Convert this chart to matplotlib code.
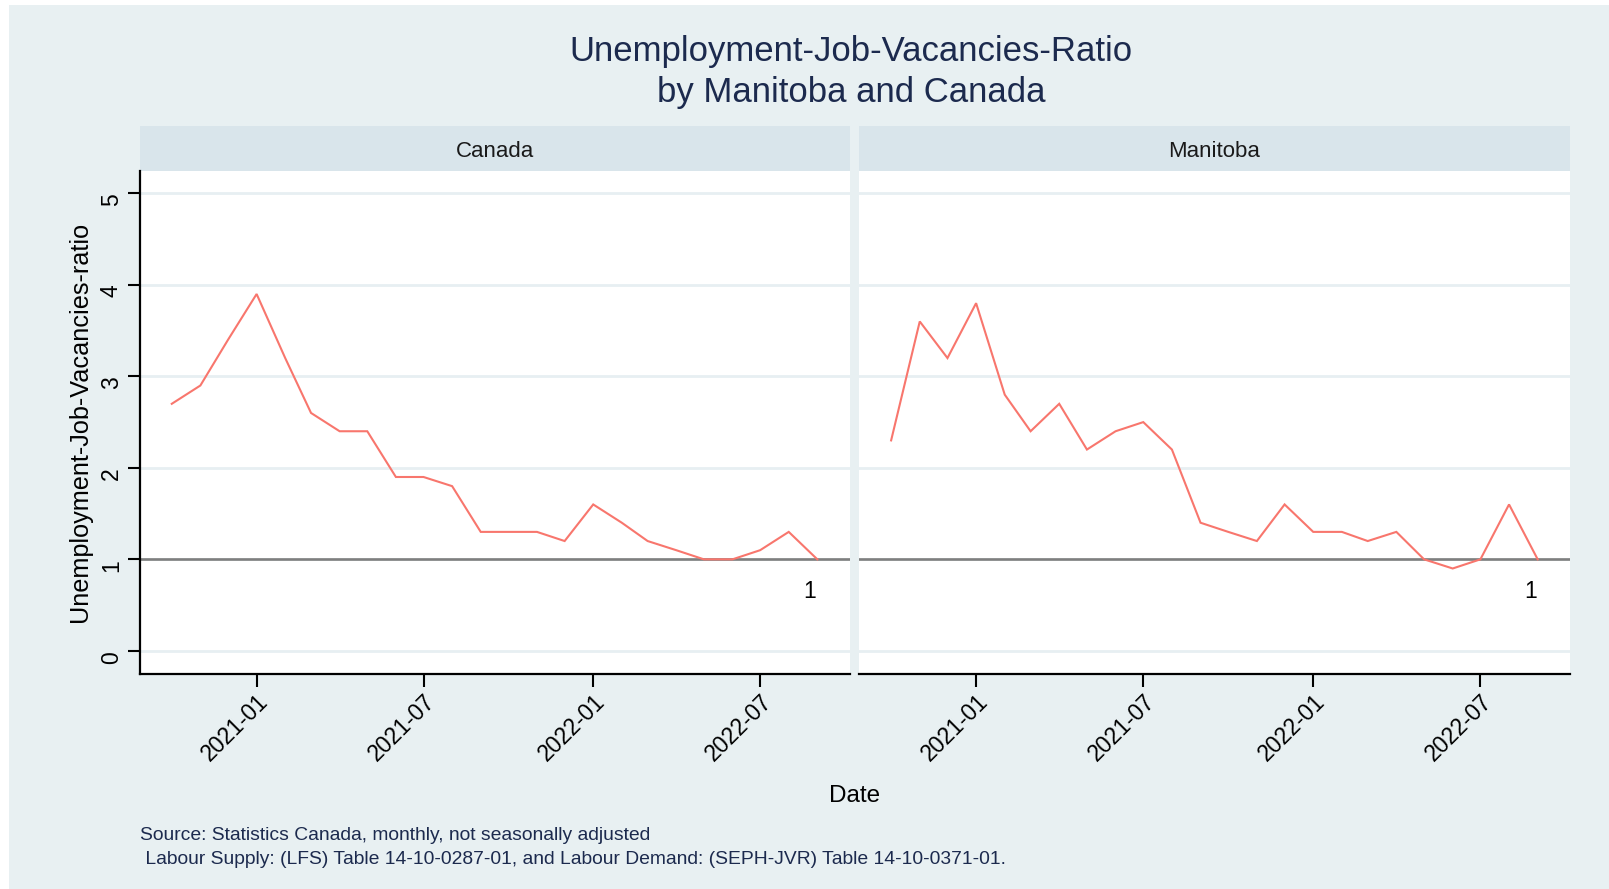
import matplotlib
matplotlib.use('Agg')
import matplotlib.pyplot as plt
import pandas as pd
from matplotlib.patches import Rectangle

plt.rcParams['font.family'] = ['Liberation Sans', 'DejaVu Sans']

# ---------------- data ----------------
dates = pd.date_range('2020-10-01', '2022-09-01', freq='MS')
regions = ['Canada', 'Manitoba']
canada = [2.7, 2.9, 3.4, 3.9, 3.2, 2.6, 2.4, 2.4, 1.9, 1.9, 1.8, 1.3,
          1.3, 1.3, 1.2, 1.6, 1.4, 1.2, 1.1, 1.0, 1.0, 1.1, 1.3, 1.0]
manitoba = [2.3, 3.6, 3.2, 3.8, 2.8, 2.4, 2.7, 2.2, 2.4, 2.5, 2.2, 1.4,
            1.3, 1.2, 1.6, 1.3, 1.3, 1.2, 1.3, 1.0, 0.9, 1.0, 1.6, 1.0]
series = {'Canada': canada, 'Manitoba': manitoba}
reference_level = 1
label_text = '1'
label_date = pd.Timestamp('2022-08-24')
label_y = 0.65
x_tick_dates = pd.to_datetime(['2021-01-01', '2021-07-01', '2022-01-01', '2022-07-01'])
x_tick_labels = ['2021-01', '2021-07', '2022-01', '2022-07']
y_ticks = [0, 1, 2, 3, 4, 5]
y_tick_labels = ['0', '1', '2', '3', '4', '5']

title = 'Unemployment-Job-Vacancies-Ratio\nby Manitoba and Canada'
y_title = 'Unemployment-Job-Vacancies-ratio'
x_title = 'Date'
caption1 = 'Source: Statistics Canada, monthly, not seasonally adjusted'
caption2 = ' Labour Supply: (LFS) Table 14-10-0287-01, and Labour Demand: (SEPH-JVR) Table 14-10-0371-01.'

# ---------------- layout ----------------
W, H = 1609, 889
fig = plt.figure(figsize=(W / 100, H / 100), dpi=100, facecolor='white')
bg = '#e8f0f2'
strip_col = '#d9e5eb'
navy = '#1c2a4e'
fig.patches.append(Rectangle((9 / W, 0), 1, 1 - 5 / H, transform=fig.transFigure,
                             facecolor=bg, edgecolor='none', zorder=-10))


def fx(px):
    return px / W


def fy(py):
    return 1 - py / H


top, bottom, strip_top = 170.5, 673.7, 126.0
panels = [(139.5, 849.6), (858.8, 1570.0)]

span = dates[-1] - dates[0]
xlim = (dates[0] - span * 0.05, dates[-1] + span * 0.05)

for i, (reg, (l, r)) in enumerate(zip(regions, panels)):
    ax = fig.add_axes([fx(l), fy(bottom), fx(r - l), (bottom - top) / H])
    ax.set_facecolor('white')
    ax.plot(dates, series[reg], color='#f8766d', lw=1.5, zorder=3, solid_joinstyle='miter')
    ax.axhline(reference_level, color='#7f7f7f', lw=1.9, zorder=2)
    ax.text(label_date, label_y, label_text, ha='center', va='center', fontsize=16.5, color='black')
    ax.set_xlim(xlim)
    ax.set_ylim(-0.25, 5.25)
    ax.set_yticks(y_ticks)
    ax.set_xticks(x_tick_dates)
    ax.set_xticklabels(x_tick_labels)
    ax.yaxis.grid(True, color='#e7eff2', lw=2, zorder=0)
    ax.xaxis.grid(False)
    ax.set_axisbelow(True)
    for s in ['top', 'right']:
        ax.spines[s].set_visible(False)
    ax.spines['bottom'].set_linewidth(1.6)
    ax.spines['left'].set_linewidth(1.6)
    ax.tick_params(axis='x', length=9, width=1.5, labelsize=16.5, pad=3)
    for lbl in ax.get_xticklabels():
        lbl.set_rotation(45)
        lbl.set_ha('right')
        lbl.set_va('top')
        lbl.set_rotation_mode('anchor')
    if i == 0:
        ax.set_yticklabels(y_tick_labels)
        ax.tick_params(axis='y', length=9, width=1.5, labelsize=16.5, pad=3, labelrotation=90)
        for lbl in ax.get_yticklabels():
            lbl.set_va('top')
    else:
        ax.spines['left'].set_visible(False)
        ax.tick_params(axis='y', length=0, labelleft=False)
    # strip
    fig.patches.append(Rectangle((fx(l), fy(top)), fx(r - l), (top - strip_top) / H,
                                 transform=fig.transFigure, facecolor=strip_col,
                                 edgecolor='none', zorder=-5))
    fig.text(fx((l + r) / 2), fy((top + strip_top) / 2 + 3.5), reg, ha='center', va='center',
             fontsize=16, color='#1a1a1a')

fig.text(fx(851), fy(72), title, ha='center', va='center', fontsize=25,
         color=navy, linespacing=1.33)
fig.text(fx(80), fy((top + bottom) / 2), y_title, rotation=90, ha='center', va='center',
         fontsize=18.2, color='black')
fig.text(fx(854.7), fy(795.5), x_title, ha='center', va='center', fontsize=17.5, color='black')
fig.text(fx(139.5), fy(835.6), caption1, ha='left', va='center', fontsize=13.9, color=navy)
fig.text(fx(139.5), fy(860.0), caption2, ha='left', va='center', fontsize=13.9, color=navy)

fig.savefig('out.png', dpi=100, facecolor=fig.get_facecolor())
